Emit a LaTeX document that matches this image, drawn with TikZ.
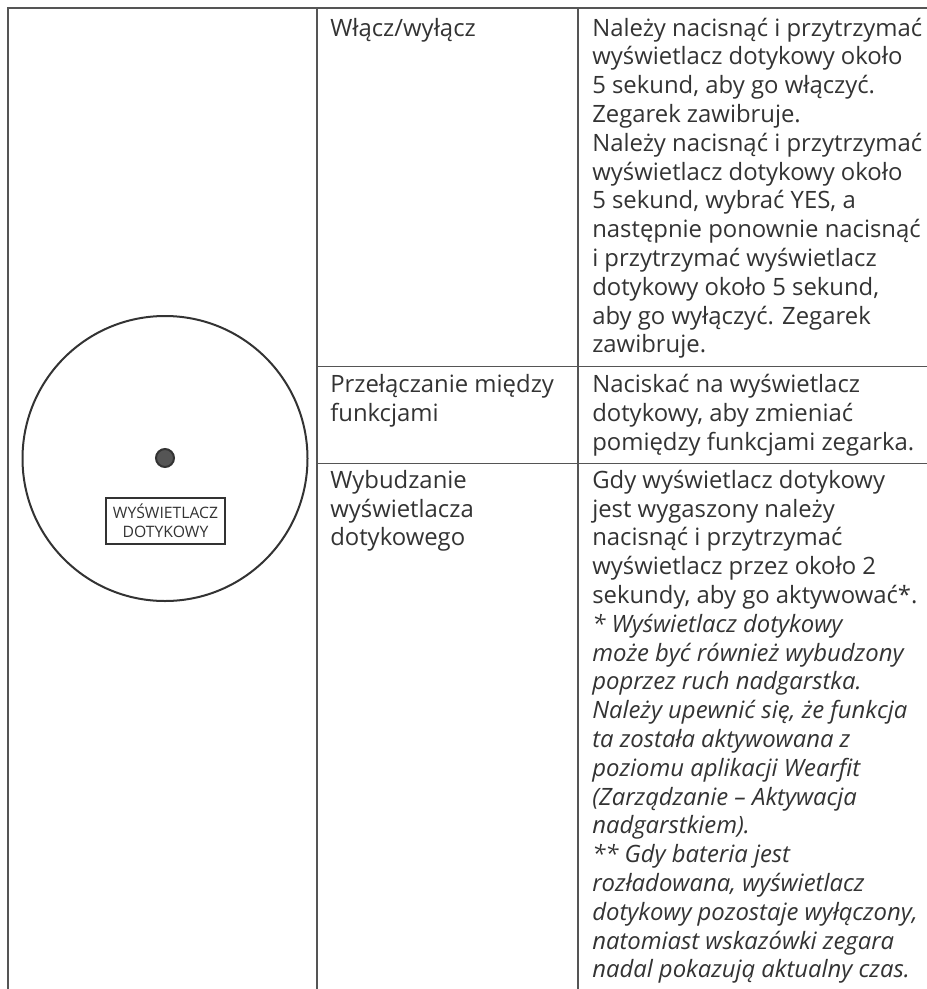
\documentclass[tikz,border=0pt]{standalone}
\usepackage{fontspec}
\setmainfont{Open Sans}
\definecolor{gridc}{HTML}{555555}
\definecolor{ringc}{HTML}{333333}
\definecolor{dotc}{HTML}{555555}
\definecolor{txt}{HTML}{333333}
\begin{document}
\begin{tikzpicture}[x=0.75pt,y=-0.75pt,
  grid/.style={draw=gridc, line width=0.95pt},
  cell/.style={anchor=base west, inner sep=0pt, align=left, text=txt,
    font=\fontsize{17.9pt}{21.6pt}\selectfont},
  ring/.style={circle, draw=ringc, line width=1.5pt, inner sep=0pt},
  tag/.style={draw=ringc, line width=1.4pt, inner sep=0pt, align=center, text=txt,
    font=\fontsize{11.8pt}{14.25pt}\selectfont}]
\useasboundingbox (0,0) rectangle (927,989);
% table grid
\draw[grid] (8,989) -- (8,8) -- (927,8);
\draw[grid] (317,8) -- (317,989);
\draw[grid] (578,8) -- (578,989);
\draw[grid] (317,366.7) -- (927,366.7);
\draw[grid] (317,463.3) -- (927,463.3);
% watch face
\node (watch) [ring, minimum size=213.75pt] at (165,458.5) {};
\node (btn) [ring, fill=dotc, minimum size=13.5pt] at (165,458) {};
\node (lbl) [tag, minimum width=89pt, minimum height=34.5pt] at (165.5,521) {WYŚWIETLACZ\\DOTYKOWY};
% column 2 (anchored at the baseline of the last line)
\node (f1) [cell] at (330,36) {Włącz/wyłącz};
\node (f2) [cell] at (330,421.5) {Przełączanie między\\funkcjami};
\node (f3) [cell] at (330,545.9) {Wybudzanie\\wyświetlacza\\dotykowego};
% column 3
\node (d1) [cell] at (592,352.8) {Należy nacisnąć i przytrzymać\\wyświetlacz dotykowy około\\5 sekund, aby go włączyć.\\Zegarek zawibruje.\\Należy nacisnąć i przytrzymać\\wyświetlacz dotykowy około\\5 sekund, wybrać YES, a\\następnie ponownie nacisnąć\\i przytrzymać wyświetlacz\\dotykowy około 5 sekund,\\aby go wyłączyć. Zegarek\\zawibruje.};
\node (d2) [cell] at (592,450.3) {Naciskać na wyświetlacz\\dotykowy, aby zmieniać\\pomiędzy funkcjami zegarka.};
\node (d3) [cell] at (592,977.9) {Gdy wyświetlacz dotykowy\\jest wygaszony należy\\nacisnąć i przytrzymać\\wyświetlacz przez około 2\\sekundy, aby go aktywować*.\\\itshape * Wyświetlacz dotykowy\\\itshape może być również wybudzony\\\itshape poprzez ruch nadgarstka.\\\itshape Należy upewnić się, że funkcja\\\itshape ta została aktywowana z\\\itshape poziomu aplikacji Wearfit\\\itshape (Zarządzanie – Aktywacja\\\itshape nadgarstkiem).\\\itshape ** Gdy bateria jest\\\itshape rozładowana, wyświetlacz\\\itshape dotykowy pozostaje wyłączony,\\\itshape natomiast wskazówki zegara\\\itshape nadal pokazują aktualny czas.};
\end{tikzpicture}
\end{document}
